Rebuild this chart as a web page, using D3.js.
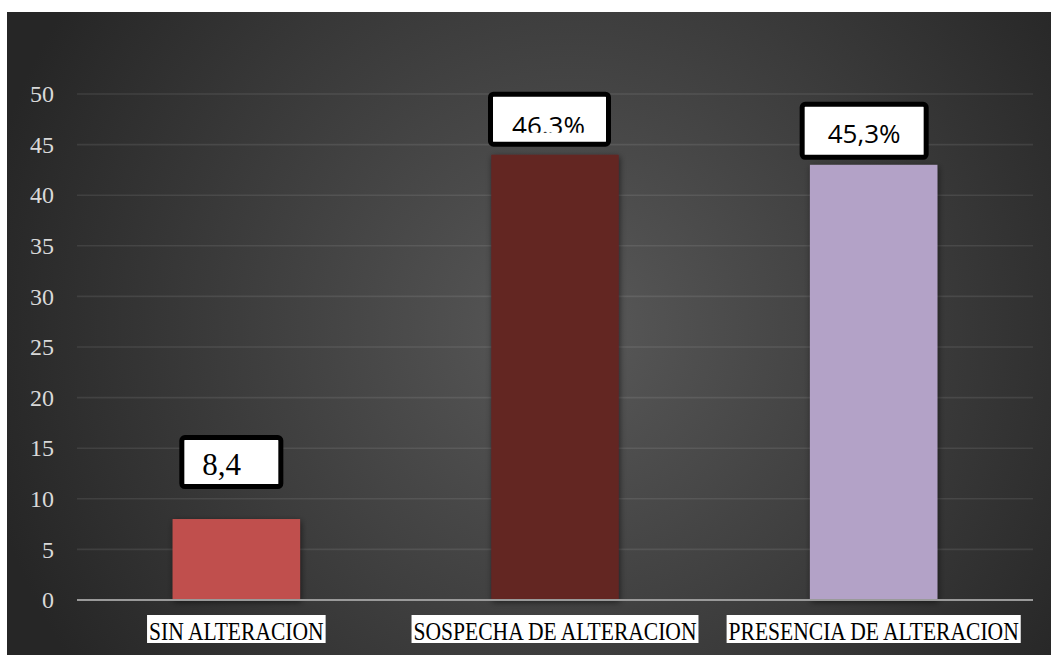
<!DOCTYPE html>
<html>
<head>
<meta charset="utf-8">
<script src="https://cdn.jsdelivr.net/npm/d3@7/dist/d3.min.js"></script>
<style>
  html, body { margin: 0; padding: 0; background: #fff; }
  svg { display: block; }
</style>
</head>
<body>
<div id="chart"></div>
<script>
// values
const categories = ["SIN ALTERACION", "SOSPECHA DE ALTERACION", "PRESENCIA DE ALTERACION"];
const values = [8, 44, 43];
const labelTexts = ["8,4", "46.3%", "45,3%"];
const barColors = ["#C0504D", "#632523", "#B3A2C7"];
const yTicks = [0, 5, 10, 15, 20, 25, 30, 35, 40, 45, 50];

// hand-placed label boxes (offsets from band centre / bar top), like the original
const labelLayout = [
  { dx: -57, dy: -30, w: 104, h: 54, font: "Liberation Serif, DejaVu Serif, serif", size: 31, anchor: "start", tx: 23, base: 14, clip: null },
  { dx: -67, dy: -8, w: 123, h: 55, font: "Open Sans, sans-serif", size: 26, anchor: "middle", tx: -1, base: 12, clip: 14 },
  { dx: -74, dy: -5, w: 129, h: 58, font: "Open Sans, sans-serif", size: 26, anchor: "middle", tx: 0, base: 17, clip: null }
];

const width = 1051, height = 655;
const margin = { left: 77, right: 18, top: 94, bottom: 55 };
const squeeze = 0.88; // category labels are a condensed serif

const svg = d3.select("#chart").append("svg")
  .attr("width", width).attr("height", height);

const defs = svg.append("defs");
const bg = defs.append("radialGradient").attr("id", "bg-grad")
  .attr("gradientUnits", "userSpaceOnUse")
  .attr("cx", 570).attr("cy", 330).attr("r", 600);
bg.append("stop").attr("offset", "0%").attr("stop-color", "#595959");
bg.append("stop").attr("offset", "100%").attr("stop-color", "#262626");

const shadow = defs.append("filter").attr("id", "bar-shadow")
  .attr("x", "-20%").attr("y", "-20%").attr("width", "140%").attr("height", "140%");
shadow.append("feDropShadow").attr("dx", 1).attr("dy", 2).attr("stdDeviation", 3)
  .attr("flood-color", "#000").attr("flood-opacity", 0.55);

svg.append("rect").attr("x", 7).attr("y", 12)
  .attr("width", width - 7).attr("height", height - 12)
  .attr("fill", "url(#bg-grad)");

const x = d3.scaleBand()
  .domain(categories)
  .range([margin.left, width - margin.right])
  .paddingInner(0.6).paddingOuter(0.3);

const y = d3.scaleLinear().domain([0, 50]).range([height - margin.bottom, margin.top]);

// gridlines
svg.append("g").selectAll("line")
  .data(yTicks.filter(d => d > 0))
  .join("line")
  .attr("x1", margin.left).attr("x2", width - margin.right)
  .attr("y1", d => y(d)).attr("y2", d => y(d))
  .attr("stroke", "rgba(255,255,255,0.09)").attr("stroke-width", 1.6);

// y tick labels
svg.append("g").selectAll("text")
  .data(yTicks)
  .join("text")
  .attr("x", 54).attr("y", d => y(d)).attr("dy", "0.34em")
  .attr("text-anchor", "end")
  .attr("font-family", "Liberation Serif, DejaVu Serif, serif").attr("font-size", 24)
  .attr("fill", "#d9d9d9")
  .text(d => d);

// bars
svg.append("g").selectAll("rect")
  .data(values)
  .join("rect")
  .attr("x", (d, i) => x(categories[i]))
  .attr("y", d => y(d))
  .attr("width", x.bandwidth())
  .attr("height", d => y(0) - y(d))
  .attr("fill", (d, i) => barColors[i])
  .attr("filter", "url(#bar-shadow)");

// x axis line
svg.append("line")
  .attr("x1", margin.left).attr("x2", width - margin.right)
  .attr("y1", y(0)).attr("y2", y(0))
  .attr("stroke", "#9a9a9a").attr("stroke-width", 2.2);

// category labels on white boxes
const cat = svg.append("g").selectAll("g")
  .data(categories)
  .join("g");
cat.each(function (c) {
  const g = d3.select(this);
  const cx = x(c) + x.bandwidth() / 2;
  const rect = g.append("rect").attr("fill", "#fff");
  const t = g.append("g")
    .attr("transform", `translate(${cx},639.5) scale(${squeeze},1)`)
    .append("text")
    .attr("font-family", "Liberation Serif, DejaVu Serif, serif").attr("font-size", 24.5)
    .attr("fill", "#000").attr("text-anchor", "middle")
    .text(c);
  const len = t.node().getComputedTextLength() * squeeze;
  rect.attr("x", cx - len / 2 - 2).attr("y", 615).attr("width", len + 4).attr("height", 28);
});

// data label boxes
labelLayout.forEach((L, i) => {
  const cx = x(categories[i]) + x.bandwidth() / 2;
  const left = cx + L.dx;
  const bottom = y(values[i]) + L.dy;
  const top = bottom - L.h;
  const g = svg.append("g");
  g.append("rect")
    .attr("x", left + 2.5).attr("y", top + 2.5)
    .attr("width", L.w - 5).attr("height", L.h - 5)
    .attr("rx", 3)
    .attr("fill", "#fff").attr("stroke", "#000").attr("stroke-width", 5);
  const tx = L.anchor === "middle" ? left + L.w / 2 + L.tx : left + L.tx;
  const t = g.append("text")
    .attr("x", tx).attr("y", bottom - L.base)
    .attr("text-anchor", L.anchor)
    .attr("font-family", L.font).attr("font-size", L.size)
    .attr("fill", "#000")
    .text(labelTexts[i]);
  if (L.clip != null) {
    const id = "label-clip-" + i;
    defs.append("clipPath").attr("id", id).append("rect")
      .attr("x", left + 5).attr("y", top + 5)
      .attr("width", L.w - 10).attr("height", L.h - 5 - L.clip);
    t.attr("clip-path", `url(#${id})`);
  }
});
</script>
</body>
</html>
